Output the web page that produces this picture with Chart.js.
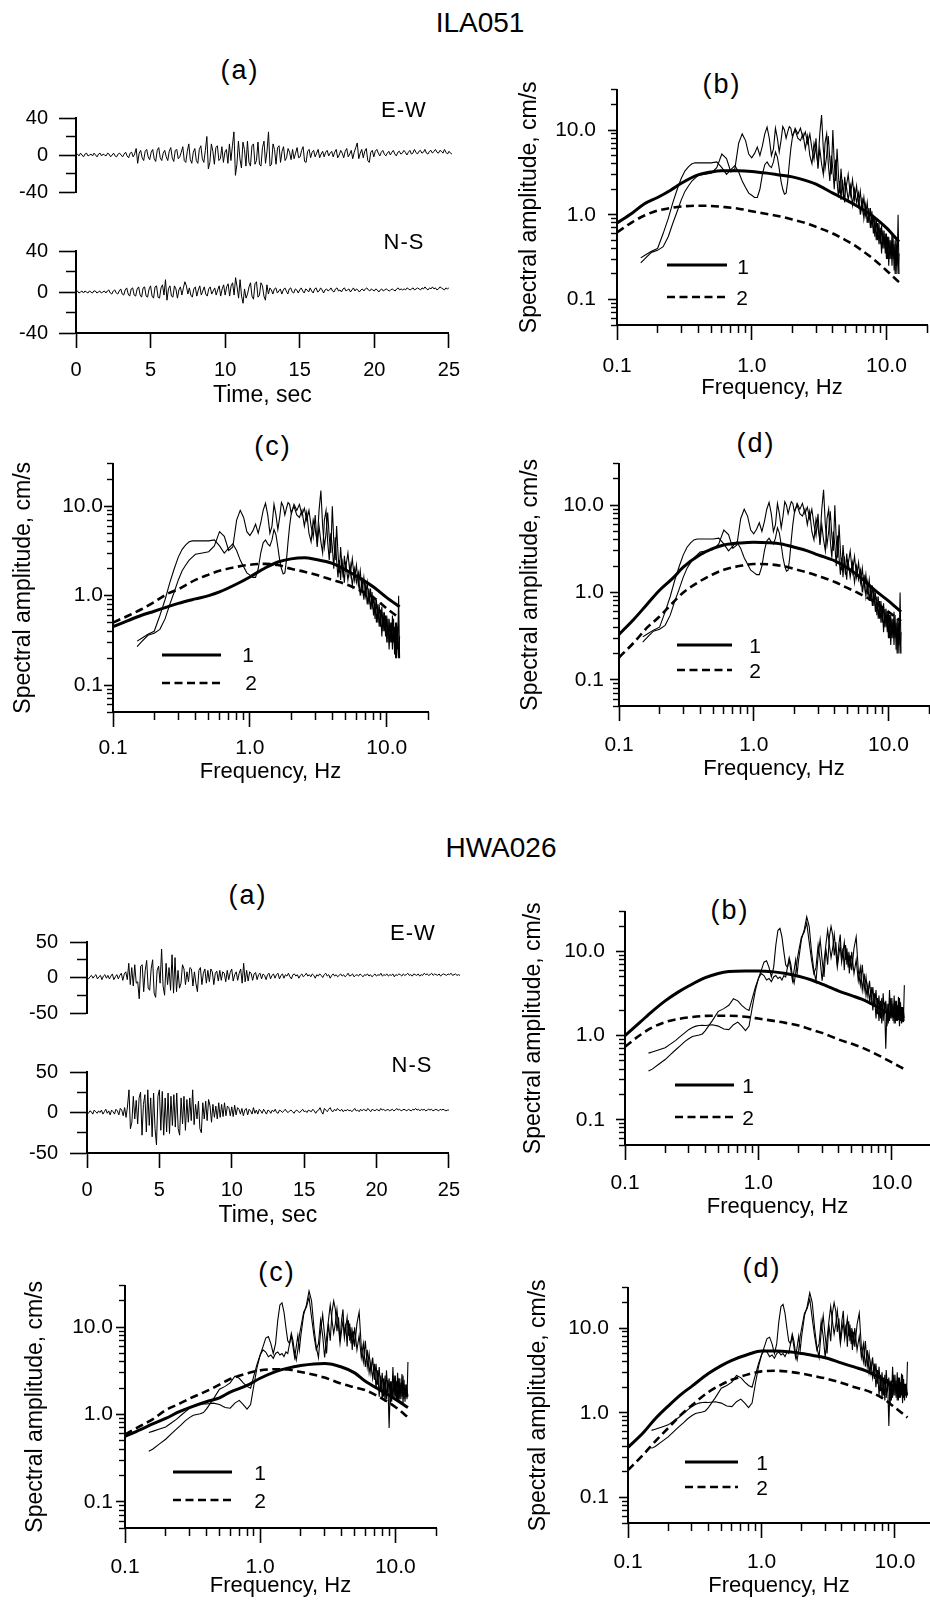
<!DOCTYPE html>
<html><head><meta charset="utf-8">
<script src="https://cdn.jsdelivr.net/npm/chart.js@4.4.0/dist/chart.umd.min.js"></script>
<style>
html,body{margin:0;padding:0;background:#fff;}
body{width:930px;height:1603px;position:relative;overflow:hidden;font-family:"Liberation Sans",Arial,sans-serif;color:#000;}
canvas{position:absolute;}
.t{position:absolute;line-height:1;white-space:nowrap;transform:translate(-50%,-50%);}
</style></head><body>
<script>
// ---------------- DATA ----------------
const DT = 0.1; // sampling step of the traces, sec
const ILA_EW = [0,1,-1,2,0,-2,1,2,-1,0,
 1,-1,2,0,-2,1,2,-1,1,0,
 -1,2,1,-2,0,2,-1,-2,1,2,
 0,-2,1,3,-1,-3,2,3,-2,1,
 7,-9,2,5,-3,-6,4,6,-2,-5,
 3,6,-4,-7,5,8,-3,-6,2,5,
 -2,-6,4,8,-3,-7,5,6,-4,-2,
 3,9,-6,-8,4,12,-5,-9,3,7,
 -6,-9,6,10,-4,-8,5,20,-15,-8,
 12,4,-10,8,10,-6,-4,9,-8,3,
 6,-9,12,-6,10,25,-22,-10,15,-4,
 -14,14,6,-12,15,-8,-12,10,12,-10,
 -6,14,-10,-12,8,15,-9,4,25,-12,
 -10,12,6,-10,8,10,-8,4,9,-6,
 -3,7,3,-5,6,-4,2,8,-3,-2,
 5,9,-7,-8,4,6,-3,3,5,-2,
 2,6,-3,1,4,-2,3,5,-1,2,
 4,-2,3,6,-3,0,5,2,-3,4,
 7,-2,1,5,-4,3,8,13,-4,2,
 6,-3,4,7,-6,-8,3,5,-2,4,
 6,2,-1,3,5,1,-1,2,4,0,
 3,5,1,-1,3,4,1,2,5,3,
 0,3,5,1,2,6,3,1,4,5,
 2,3,6,2,1,4,5,2,4,6,
 3,2,5,4,2,6,3,1,4,2,
 1];
const ILA_NS = [0,1,-1,0,1,-1,1,0,-1,1,
 0,-1,1,1,-1,0,1,-1,0,1,
 -1,1,2,-1,-2,1,2,-1,-2,1,
 3,-2,-3,2,4,-2,-4,3,4,-3,
 -4,3,5,-3,-5,4,5,-4,-5,3,
 6,-4,-6,5,6,-5,-6,4,7,-3,
 12,-8,3,6,-4,-5,6,3,-6,2,
 5,-3,4,10,6,-2,4,-3,-5,3,
 5,-4,2,6,-3,1,5,-2,-4,3,
 5,-2,1,4,-3,2,6,-4,3,7,
 -3,5,8,-4,6,9,-3,14,5,-6,
 12,-4,-11,3,-6,-2,5,9,-4,-7,
 8,10,-5,-3,9,6,-4,-8,7,-2,
 4,2,-2,3,4,-1,1,3,-2,2,
 4,1,-2,3,4,0,-1,3,2,-1,
 2,4,1,-1,3,2,0,4,1,-1,
 3,4,0,1,4,2,-1,2,3,1,
 2,4,1,0,3,4,1,2,0,3,
 4,1,2,3,0,2,4,1,3,2,
 0,2,3,1,3,4,2,1,3,2,
 1,3,2,0,2,3,1,2,3,2,
 1,2,3,2,1,3,4,2,3,2,
 3,2,4,3,2,3,4,2,3,4,
 3,2,4,3,5,3,2,4,3,5,
 3,4,2,3,5,4,3,2,4,3,
 4];
const HWA_EW = [0,-2,1,3,-1,2,4,-2,1,3,
 -3,2,4,-1,3,-2,2,5,-3,1,
 4,-2,3,6,-4,5,8,-3,20,-10,
 14,-12,18,-8,-6,-30,16,18,-20,10,
 24,-15,-18,12,25,-22,-28,10,16,-8,
 40,-12,-25,20,-10,14,-18,32,-22,28,
 -20,10,-15,-8,18,12,-10,8,-6,14,
 12,-12,8,-8,-20,10,14,-10,6,12,
 -8,10,-6,12,8,-10,6,9,-5,10,
 -4,8,6,-6,10,-3,7,12,-5,4,
 8,-4,6,12,-8,20,-6,10,-5,8,
 6,-4,5,7,-3,4,6,-2,5,3,
 -3,4,6,-2,3,5,-1,4,6,-2,
 3,5,-1,4,2,6,1,-2,4,5,
 2,4,-1,3,5,1,3,6,2,4,
 1,5,3,-1,4,2,5,3,0,4,
 6,2,4,-1,3,5,2,4,1,3,
 5,2,4,1,3,6,2,3,5,1,
 3,4,2,5,3,1,4,3,5,2,
 4,1,3,5,2,4,3,6,2,4,
 3,5,2,4,3,5,1,4,3,5,
 4,2,5,3,4,6,3,4,2,5,
 4,3,5,2,4,3,6,4,5,3,
 4,6,3,5,4,3,5,2,4,5,
 4,3,5,4,6,3,4,5,3,4,
 3];
const HWA_NS = [0,-1,2,1,-2,3,1,-1,2,0,
 3,-2,1,4,-1,2,-3,3,1,-2,
 4,2,-3,5,3,-4,6,-6,8,28,
 -20,-12,20,-8,15,-14,18,25,-28,10,
 22,-24,28,-16,18,-30,24,-20,-40,20,
 28,-22,26,-28,18,-24,24,-26,20,-16,
 22,-18,24,-20,-28,18,-14,20,-22,16,
 -12,18,-10,28,-15,10,-8,14,-20,-25,
 12,-8,14,-10,16,8,-12,10,-6,8,
 -8,12,-6,10,-5,12,-4,8,6,-4,
 7,-5,9,-3,6,4,-2,5,-4,3,
 5,-3,4,2,-2,6,-1,3,-2,4,
 2,-1,4,1,-2,3,2,-1,3,1,
 4,0,-1,3,2,0,2,4,1,0,
 2,3,1,-1,2,3,1,0,2,4,
 1,2,0,3,2,1,4,2,-1,2,
 3,6,1,-2,5,3,1,4,6,2,
 1,4,2,5,3,2,4,1,3,2,
 4,2,3,1,3,5,2,3,1,4,
 2,4,3,2,5,3,1,4,3,2,
 4,3,2,5,3,4,2,3,4,2,
 3,4,2,3,5,3,4,2,3,4,
 3,2,4,3,2,4,3,5,3,4,
 2,4,3,4,2,3,4,3,4,2,
 3,4,3,2,4,3,4,3,2,3,
 3];

// observed spectra: frequencies (Hz)
const FREQ = [0.15,0.16,0.18,0.2,0.22,0.24,0.26,0.28,0.3,0.32,
 0.34,0.36,0.38,0.4,0.45,0.5,0.55,0.6,0.65,0.7,
 0.75,0.8,0.85,0.9,0.95,1.0,1.05,1.1,1.15,1.2,
 1.25,1.3,1.35,1.4,1.45,1.5,1.55,1.6,1.65,1.7,
 1.75,1.8,1.85,1.9,1.95,2.0,2.1,2.2,2.3,2.4,
 2.5,2.6,2.7,2.8,2.9,3.0,3.1,3.2,3.3,3.4,
 3.5,3.6,3.7,3.8,3.9,4.0,4.1,4.2,4.3,4.4,
 4.5,4.6,4.7,4.8,4.9,5.0,5.2,5.4,5.6,5.8,
 6.0,6.2,6.4,6.6,6.8,7.0,7.2,7.4,7.6,7.8,
 8.0,8.2,8.4,8.6,8.8,9.0,9.2,9.4,9.6,9.8,
 10.0,10.2,10.4,10.6,10.8,11.0,11.2,11.4,11.6,11.8,
 12.0,12.2,12.4];
const ILA_SPEC_1 = [0.27,0.3,0.36,0.38,0.42,0.55,0.8,1.1,1.5,1.9,
 2.2,2.5,2.7,2.9,3.0,3.1,3.6,5.2,4.6,3.2,
 3.5,7.0,9.0,7.5,5.2,4.7,5.3,6.3,5.0,6.5,
 9.0,10.8,8.0,5.0,6.0,10.5,8.0,5.5,7.5,11.0,
 10.0,8.0,9.5,11.0,10.5,8.5,10.0,8.0,7.5,9.0,
 6.0,8.5,5.0,4.0,7.0,5.5,4.0,9.0,15.0,6.0,
 3.5,5.0,8.5,4.5,3.0,10.0,4.0,2.5,6.0,3.0,
 1.8,3.5,2.2,1.6,2.8,2.0,3.0,1.7,2.6,1.5,
 2.2,1.3,1.9,1.1,1.6,1.0,1.4,0.8,1.2,0.7,
 1.0,0.55,0.9,0.5,0.8,0.45,0.75,0.4,0.65,0.35,
 0.6,0.3,0.55,0.3,0.5,0.25,0.55,0.22,0.5,0.2,
 0.45,0.2,0.35];
const ILA_SPEC_2 = [0.31,0.33,0.37,0.4,0.6,0.9,1.4,2.0,2.7,3.3,
 3.7,4.0,4.1,4.1,4.1,4.1,4.2,3.6,3.0,3.4,
 3.8,3.2,2.5,2.1,1.8,1.7,1.6,1.6,2.0,3.0,
 3.9,4.2,3.8,3.6,4.2,5.5,4.8,3.5,2.5,2.0,
 1.75,1.8,2.5,4.0,6.0,8.0,10.5,9.0,10.5,8.0,
 9.5,7.0,9.0,6.0,4.5,8.0,3.5,6.0,4.0,3.0,
 7.0,9.0,4.0,2.5,5.0,3.5,2.0,4.5,2.5,1.6,
 2.5,1.5,2.6,1.9,1.4,2.4,1.5,2.2,1.3,2.0,
 1.4,1.8,1.0,1.6,0.9,1.3,0.8,1.2,0.7,1.1,
 0.6,0.9,0.5,0.8,0.45,0.7,0.35,0.65,0.4,0.6,
 0.3,0.55,0.25,0.5,0.3,0.6,0.3,0.45,0.2,0.5,
 0.25,1.0,0.2];
const HWA_SPEC_1 = [0.62,0.64,0.68,0.72,0.8,0.88,0.98,1.08,1.18,1.25,
 1.3,1.32,1.33,1.32,1.35,1.3,1.2,1.18,1.35,1.45,
 1.3,1.15,1.3,2.2,3.5,4.8,6.0,7.5,7.8,6.5,
 5.0,6.5,12.0,18.0,19.0,15.0,10.0,7.0,6.5,8.0,
 6.0,4.5,6.0,8.0,5.5,8.0,14.0,18.0,26.0,20.0,
 10.0,6.0,4.5,9.0,14.0,8.0,5.0,11.0,7.0,15.0,
 20.0,16.0,9.0,13.0,7.0,12.0,16.0,8.0,11.0,6.0,
 12.0,7.0,10.0,5.5,9.0,6.0,11.0,15.0,6.0,4.0,
 7.0,3.5,5.0,3.0,4.5,2.5,3.8,2.2,3.5,1.8,
 3.0,1.6,2.8,1.5,2.5,0.7,2.4,1.4,3.5,1.6,
 2.8,1.5,3.0,1.4,2.6,1.5,2.9,1.3,2.5,1.4,
 2.2,1.5,4.0];
const HWA_SPEC_2 = [0.38,0.4,0.46,0.52,0.6,0.68,0.76,0.85,0.92,0.98,
 1.0,1.02,1.05,1.15,1.5,1.95,2.1,2.3,2.75,2.6,
 2.3,2.1,2.0,2.8,3.8,4.8,5.5,5.2,4.6,4.8,
 4.4,5.0,5.2,4.8,5.0,4.6,5.2,5.0,6.5,8.5,
 7.0,5.0,4.2,5.5,8.0,10.0,15.0,17.0,22.0,13.0,
 8.0,5.5,6.5,12.0,8.0,4.5,7.5,12.0,18.0,12.0,
 8.5,11.0,16.0,10.0,6.5,9.0,12.0,7.5,10.0,13.0,
 8.0,11.0,6.5,9.0,7.0,10.0,5.5,8.0,4.5,6.5,
 3.5,5.5,3.0,4.0,2.6,3.8,2.0,3.2,1.6,2.8,
 1.5,2.6,1.4,3.2,1.8,2.6,1.3,2.4,1.5,2.8,
 1.6,2.4,1.4,2.6,1.5,2.3,1.6,2.8,1.5,2.2,
 1.6,2.0,1.6];

// model spectra (1 = solid, 2 = dashed), sampled at MODEL_FREQ
const MODEL_FREQ = [0.1,0.13,0.16,0.2,0.25,0.3,0.4,0.5,0.6,0.8,1.0,1.3,1.6,2.0,2.5,3.0,4.0,5.0,6.0,8.0,10.0,12.4];
const ILA_B_1 = [0.8,1.05,1.35,1.6,1.95,2.35,2.95,3.2,3.3,3.3,3.25,3.1,2.95,2.8,2.55,2.3,1.8,1.5,1.28,0.95,0.7,0.48];
const ILA_B_2 = [0.62,0.82,0.98,1.12,1.2,1.25,1.28,1.27,1.24,1.18,1.1,1.02,0.96,0.88,0.8,0.72,0.6,0.5,0.42,0.3,0.22,0.16];
const ILA_C_1 = [0.45,0.53,0.6,0.67,0.75,0.82,0.92,1.0,1.1,1.35,1.62,2.05,2.38,2.58,2.65,2.55,2.3,1.95,1.65,1.25,0.95,0.75];
const ILA_C_2 = [0.5,0.6,0.7,0.85,1.05,1.18,1.5,1.72,1.9,2.1,2.22,2.27,2.2,2.0,1.85,1.72,1.5,1.35,1.2,0.95,0.72,0.56];
const ILA_D_1 = [0.33,0.5,0.72,1.06,1.45,1.95,2.7,3.2,3.5,3.7,3.77,3.72,3.6,3.3,3.0,2.7,2.3,1.9,1.55,1.05,0.8,0.6];
const ILA_D_2 = [0.18,0.27,0.39,0.53,0.76,1.0,1.35,1.62,1.82,2.02,2.12,2.1,2.02,1.86,1.7,1.55,1.32,1.12,0.98,0.77,0.6,0.47];
const HWA_B_1 = [1.0,1.45,1.95,2.6,3.3,3.9,4.9,5.5,5.8,5.9,5.9,5.75,5.5,5.1,4.6,4.1,3.4,3.0,2.7,2.15,1.75,1.5];
const HWA_B_2 = [0.74,1.02,1.25,1.45,1.58,1.65,1.72,1.73,1.73,1.68,1.6,1.5,1.42,1.32,1.18,1.08,0.9,0.8,0.72,0.58,0.48,0.4];
const HWA_C_1 = [0.56,0.67,0.78,0.9,1.07,1.2,1.4,1.55,1.8,2.15,2.6,3.1,3.4,3.64,3.8,3.83,3.5,3.0,2.4,1.85,1.5,1.2];
const HWA_C_2 = [0.59,0.74,0.88,1.12,1.32,1.52,1.85,2.2,2.55,2.95,3.2,3.3,3.28,3.07,2.85,2.65,2.25,2.05,1.9,1.52,1.22,0.93];
const HWA_D_1 = [0.39,0.58,0.85,1.2,1.65,2.05,2.9,3.6,4.15,4.9,5.35,5.35,5.25,5.0,4.7,4.45,3.85,3.45,3.15,2.5,2.0,1.65];
const HWA_D_2 = [0.21,0.32,0.46,0.66,0.95,1.22,1.75,2.15,2.45,2.85,3.08,3.13,3.05,2.9,2.7,2.55,2.25,2.0,1.85,1.5,1.15,0.88];

// tick values and labels
const T_TICKS = [0,5,10,15,20,25];
const ILA_Y_MAJOR = [-40,0,40], ILA_Y_MINOR = [-20,20];
const HWA_Y_MAJOR = [-50,0,50], HWA_Y_MINOR = [-25,25];
const LOG_X_MAJOR = [0.1,1,10], LOG_X_LABELS = ['0.1','1.0','10.0'];
const LOG_X_MINOR = [0.2,0.3,0.4,0.5,0.6,0.7,0.8,0.9,2,3,4,5,6,7,8,9,20];
const LOG_Y_MAJOR = [0.1,1,10], LOG_Y_LABELS = ['0.1','1.0','10.0'];
const LOG_Y_MINOR = [0.05,0.06,0.07,0.08,0.09,0.2,0.3,0.4,0.5,0.6,0.7,0.8,0.9,2,3,4,5,6,7,8,9,20,30];

// ---------------- HELPERS ----------------
const FONT = '"Liberation Sans", Arial, sans-serif';
const K = '#000';
const TICK_FS = 21, TS_TICK_FS = 20, TITLE_FS = 22;

function makeCanvas(b){
  const c=document.createElement('canvas');
  c.width=b.w; c.height=b.h;
  c.style.left=b.l+'px'; c.style.top=b.t+'px';
  c.style.width=b.w+'px'; c.style.height=b.h+'px';
  document.body.appendChild(c); return c;
}
function txt(s,cx,cy,size,ls){
  const d=document.createElement('div'); d.className='t'; d.textContent=s;
  d.style.left=cx+'px'; d.style.top=cy+'px'; d.style.fontSize=size+'px';
  if(ls){d.style.letterSpacing=ls+'px';}
  document.body.appendChild(d);
}
function legLine(x1,x2,y,dashed){
  const ns='http://www.w3.org/2000/svg';
  const s=document.createElementNS(ns,'svg');
  s.setAttribute('width',x2-x1); s.setAttribute('height',8);
  s.style.position='absolute'; s.style.left=x1+'px'; s.style.top=(y-4)+'px';
  const l=document.createElementNS(ns,'line');
  l.setAttribute('x1',0);l.setAttribute('y1',4);l.setAttribute('x2',x2-x1);l.setAttribute('y2',4);
  l.setAttribute('stroke','#000'); l.setAttribute('stroke-width',dashed?2.6:3);
  if(dashed) l.setAttribute('stroke-dasharray','8 4.5');
  s.appendChild(l); document.body.appendChild(s);
}
const ticksOf = arr => (s => { s.ticks = arr.map(v => ({value:v})); });

function tsChart(box, plot, vals, yMaj, yMin, showX, yPad){
  const cv=makeCanvas(box);
  const yW=plot.L-box.l;
  const scales={
    x:{type:'linear',min:0,max:25,position:'bottom',display:showX,weight:2},
    y:{type:'linear',position:'left',min:yMaj[0],max:yMaj[yMaj.length-1],weight:2,
       afterFit:s=>{s.width=yW;}, afterBuildTicks:ticksOf(yMaj),
       ticks:{autoSkip:false,padding:yPad,color:K,font:{family:FONT,size:TS_TICK_FS},callback:v=>String(v)},
       grid:{drawOnChartArea:false,tickLength:17,tickWidth:1.6,tickColor:K},
       border:{display:true,color:K,width:2}},
    ym:{type:'linear',axis:'y',position:'left',min:yMaj[0],max:yMaj[yMaj.length-1],weight:1,
       afterFit:s=>{s.width=0;}, afterBuildTicks:ticksOf(yMin),
       ticks:{display:false,autoSkip:false},
       grid:{drawOnChartArea:false,tickLength:10,tickWidth:1.5,tickColor:K},
       border:{display:false}}
  };
  let padBottom=box.t+box.h-plot.B;
  if(showX){
    const xH=box.t+box.h-plot.B; padBottom=0;
    Object.assign(scales.x,{
      afterFit:s=>{s.height=xH;}, afterBuildTicks:ticksOf(T_TICKS),
      ticks:{autoSkip:false,maxRotation:0,minRotation:0,padding:10,color:K,font:{family:FONT,size:TS_TICK_FS},callback:v=>String(v)},
      grid:{drawOnChartArea:false,tickLength:15,tickWidth:1.6,tickColor:K},
      border:{display:true,color:K,width:2},
      title:{display:true,text:'Time, sec',color:K,font:{family:FONT,size:23},padding:{top:0,bottom:0}}
    });
  }
  new Chart(cv,{type:'line',
    data:{datasets:[{data:vals.map((v,i)=>({x:i*DT,y:v})),borderColor:K,borderWidth:1,pointRadius:0,tension:0,xAxisID:'x',yAxisID:'y'}]},
    options:{responsive:false,animation:false,devicePixelRatio:1,
      layout:{padding:{top:plot.T-box.t,right:box.l+box.w-plot.R,left:0,bottom:padBottom}},
      plugins:{legend:{display:false},tooltip:{enabled:false}},
      scales}});
}

function specChart(box, plot, o){
  const cv=makeCanvas(box);
  const yW=plot.L-box.l, xH=box.t+box.h-plot.B;
  const ds=[
    {data:FREQ.map((f,i)=>({x:f,y:o.s1[i]})),borderColor:K,borderWidth:1.1,pointRadius:0,tension:0},
    {data:FREQ.map((f,i)=>({x:f,y:o.s2[i]})),borderColor:K,borderWidth:1.1,pointRadius:0,tension:0},
    {data:MODEL_FREQ.map((f,i)=>({x:f,y:o.m1[i]})),borderColor:K,borderWidth:3,pointRadius:0,cubicInterpolationMode:'monotone'},
    {data:MODEL_FREQ.map((f,i)=>({x:f,y:o.m2[i]})),borderColor:K,borderWidth:2.6,borderDash:[8,4.5],pointRadius:0,cubicInterpolationMode:'monotone'}
  ].map(d=>Object.assign(d,{xAxisID:'x',yAxisID:'y'}));
  new Chart(cv,{type:'line',data:{datasets:ds},
    options:{responsive:false,animation:false,devicePixelRatio:1,
      layout:{padding:{top:plot.T-box.t,right:box.l+box.w-plot.R,left:0,bottom:0}},
      plugins:{legend:{display:false},tooltip:{enabled:false}},
      scales:{
        x:{type:'logarithmic',position:'bottom',min:0.1,max:o.xmax,weight:2,
           afterFit:s=>{s.height=xH;}, afterBuildTicks:ticksOf(LOG_X_MAJOR),
           ticks:{autoSkip:false,maxRotation:0,minRotation:0,padding:o.xPad,color:K,font:{family:FONT,size:TICK_FS},
                  callback:v=>LOG_X_LABELS[LOG_X_MAJOR.indexOf(v)]},
           grid:{drawOnChartArea:false,tickLength:15,tickWidth:1.6,tickColor:K},
           border:{display:true,color:K,width:2},
           title:{display:true,text:'Frequency, Hz',color:K,font:{family:FONT,size:TITLE_FS},padding:{top:0,bottom:0}}},
        xm:{type:'logarithmic',axis:'x',position:'bottom',min:0.1,max:o.xmax,weight:1,
           afterFit:s=>{s.height=0;}, afterBuildTicks:ticksOf(LOG_X_MINOR.filter(v=>v<=o.xmax)),
           ticks:{display:false,autoSkip:false},
           grid:{drawOnChartArea:false,tickLength:8,tickWidth:1.5,tickColor:K},
           border:{display:false}},
        y:{type:'logarithmic',position:'left',min:0.05,max:30,weight:2,
           afterFit:s=>{s.width=yW;}, afterBuildTicks:ticksOf(LOG_Y_MAJOR),
           ticks:{autoSkip:false,padding:o.yPad,color:K,font:{family:FONT,size:TICK_FS},
                  callback:v=>LOG_Y_LABELS[LOG_Y_MAJOR.indexOf(v)]},
           grid:{drawOnChartArea:false,tickLength:9,tickWidth:1.6,tickColor:K},
           border:{display:true,color:K,width:2},
           title:{display:true,text:'Spectral amplitude, cm/s',color:K,font:{family:FONT,size:23},padding:{top:0,bottom:0}}},
        ym:{type:'logarithmic',axis:'y',position:'left',min:0.05,max:30,weight:1,
           afterFit:s=>{s.width=0;}, afterBuildTicks:ticksOf(LOG_Y_MINOR),
           ticks:{display:false,autoSkip:false},
           grid:{drawOnChartArea:false,tickLength:6,tickWidth:1.4,tickColor:K},
           border:{display:false}}
      }}});
}

const PFS = 27, PLS = 2, CFS = 22, LFS = 21;
// ---------------- ILA051 ----------------
txt('ILA051',480,23,28);
txt('(a)',240,70,PFS,PLS);
tsChart({l:0,t:95,w:470,h:120},{L:76,T:107,R:452,B:200},ILA_EW,ILA_Y_MAJOR,ILA_Y_MINOR,false,11);
tsChart({l:0,t:228,w:470,h:181},{L:76,T:240,R:452,B:333},ILA_NS,ILA_Y_MAJOR,ILA_Y_MINOR,true,11);
txt('E-W',404,110,CFS,1); txt('N-S',404,242,CFS,1);

txt('(b)',722,84,PFS,PLS);
specChart({l:516,t:65,w:414,h:336},{L:617,T:77,R:927,B:325},{xmax:20,xPad:14,yPad:12,s1:ILA_SPEC_1,s2:ILA_SPEC_2,m1:ILA_B_1,m2:ILA_B_2});
legLine(667,727,265,false); legLine(667,727,297,true); txt('1',743,266,LFS); txt('2',742,297,LFS);

txt('(c)',273,446,PFS,PLS);
specChart({l:10,t:450,w:430,h:335},{L:113,T:463,R:428,B:712},{xmax:20,xPad:9,yPad:1,s1:ILA_SPEC_1,s2:ILA_SPEC_2,m1:ILA_C_1,m2:ILA_C_2});
legLine(162,221,655,false); legLine(162,221,683,true); txt('1',248,654,LFS); txt('2',251,682,LFS);

txt('(d)',756,443,PFS,PLS);
specChart({l:517,t:445,w:413,h:337},{L:619,T:458,R:929,B:706},{xmax:20,xPad:12,yPad:6,s1:ILA_SPEC_1,s2:ILA_SPEC_2,m1:ILA_D_1,m2:ILA_D_2});
legLine(677,732,645,false); legLine(677,732,670,true); txt('1',755,645,LFS); txt('2',755,670,LFS);

// ---------------- HWA026 ----------------
txt('HWA026',501,848,28);
txt('(a)',248,895,PFS,PLS);
tsChart({l:0,t:918,w:470,h:119},{L:87,T:930,R:460,B:1022},HWA_EW,HWA_Y_MAJOR,HWA_Y_MINOR,false,12);
tsChart({l:0,t:1048,w:470,h:181},{L:87,T:1060,R:460,B:1153},HWA_NS,HWA_Y_MAJOR,HWA_Y_MINOR,true,12);
txt('E-W',413,933,CFS,1); txt('N-S',412,1065,CFS,1);

txt('(b)',730,910,PFS,PLS);
specChart({l:520,t:888,w:410,h:332},{L:625,T:900,R:930,B:1145},{xmax:19.3,xPad:11,yPad:11,s1:HWA_SPEC_1,s2:HWA_SPEC_2,m1:HWA_B_1,m2:HWA_B_2});
legLine(675,734,1085,false); legLine(675,734,1117,true); txt('1',748,1085,LFS); txt('2',748,1117,LFS);

txt('(c)',277,1272,PFS,PLS);
specChart({l:22,t:1270,w:423,h:329},{L:125,T:1282,R:436,B:1528},{xmax:20,xPad:12,yPad:3,s1:HWA_SPEC_1,s2:HWA_SPEC_2,m1:HWA_C_1,m2:HWA_C_2});
legLine(173,232,1472,false); legLine(173,232,1500,true); txt('1',260,1472,LFS); txt('2',260,1500,LFS);

txt('(d)',762,1268,PFS,PLS);
specChart({l:525,t:1265,w:405,h:334},{L:628,T:1277,R:930,B:1523},{xmax:18.3,xPad:12,yPad:10,s1:HWA_SPEC_1,s2:HWA_SPEC_2,m1:HWA_D_1,m2:HWA_D_2});
legLine(685,738,1462,false); legLine(685,738,1487,true); txt('1',762,1462,LFS); txt('2',762,1487,LFS);
</script>
</body></html>
